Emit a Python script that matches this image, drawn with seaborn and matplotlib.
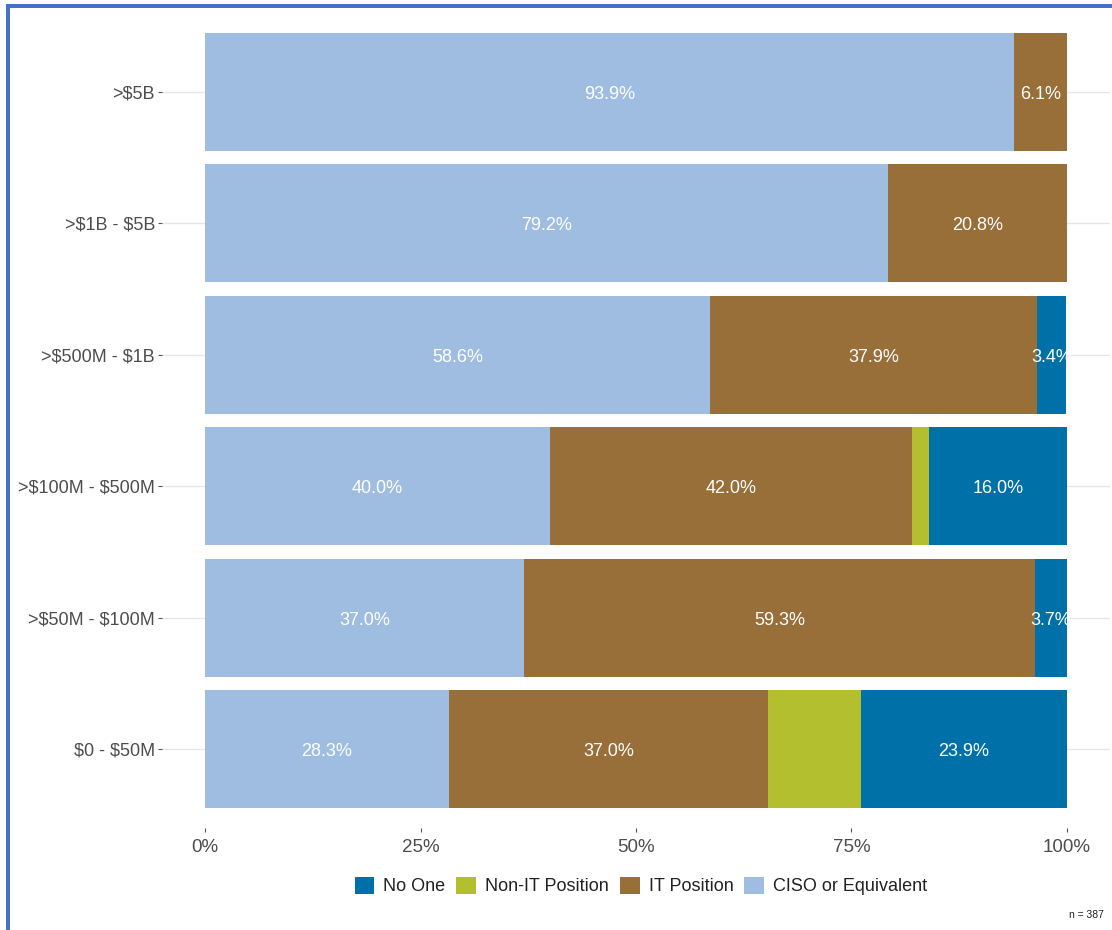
import numpy as np
import pandas as pd
import matplotlib
matplotlib.use("Agg")
import matplotlib.pyplot as plt
from matplotlib.patches import Patch, Rectangle
import seaborn as sns

# Revenue bands, top to bottom
bands = [">$5B", ">$1B - $5B", ">$500M - $1B", ">$100M - $500M", ">$50M - $100M", "$0 - $50M"]

# Share of respondents (%) per band, stacked left to right
ciso = [93.9, 79.2, 58.6, 40.0, 37.0, 28.3]
it_position = [6.1, 20.8, 37.9, 42.0, 59.3, 37.0]
non_it = [0.0, 0.0, 0.0, 2.0, 0.0, 10.8]
no_one = [0.0, 0.0, 3.4, 16.0, 3.7, 23.9]

series_names = ["CISO or Equivalent", "IT Position", "Non-IT Position", "No One"]
series_vals = [ciso, it_position, non_it, no_one]
colors = {
    "CISO or Equivalent": "#9EBDE0",
    "IT Position": "#986E39",
    "Non-IT Position": "#B3BF2E",
    "No One": "#0071A8",
}
labelled = {"CISO or Equivalent", "IT Position", "No One"}
legend_order = ["No One", "Non-IT Position", "IT Position", "CISO or Equivalent"]
x_ticks = [0, 25, 50, 75, 100]
x_ticklabels = ["0%", "25%", "50%", "75%", "100%"]
sample_note = "n = 387"

sns.set_theme(style="white")
plt.rcParams["font.family"] = ["Liberation Sans", "DejaVu Sans"]
plt.rcParams["text.parse_math"] = False

W, H = 1112, 930
fig = plt.figure(figsize=(W / 100, H / 100), dpi=100)
ax = fig.add_axes([162 / W, 1 - 828 / H, (1110 - 162) / W, (828 - 13) / H])

# cumulative ends for stacking
vals = np.array(series_vals)
ends = np.cumsum(vals, axis=0)
starts = ends - vals

# draw from the outermost stack segment inward so inner ones overlay
for i in range(len(series_names) - 1, -1, -1):
    df = pd.DataFrame({"band": bands, "end": ends[i]})
    sns.barplot(data=df, x="end", y="band", order=bands, orient="h",
                color=colors[series_names[i]], saturation=1, width=0.9,
                linewidth=0, ax=ax)

# horizontal guide lines behind the bars
ax.set_axisbelow(True)
for k in range(len(bands)):
    ax.axhline(k, color="#E6E6E6", lw=1.0, zorder=0)

# segment labels
for i, name in enumerate(series_names):
    if name not in labelled:
        continue
    for k in range(len(bands)):
        v = vals[i, k]
        if v <= 0:
            continue
        ax.text(starts[i, k] + v / 2, k + 0.02, f"{v:.1f}%", ha="center", va="center",
                color="white", fontsize=13)

ax.set_xlim(-5, 105)
ax.set_ylim(len(bands) - 0.4, -0.6)
ax.set_xticks(x_ticks)
ax.set_xticklabels(x_ticklabels)
ax.set_xlabel("")
ax.set_ylabel("")
for s in ax.spines.values():
    s.set_visible(False)
ax.grid(False)
ax.tick_params(axis="both", which="both", bottom=True, left=True, length=3, width=0.8,
               color="#555555", labelcolor="#4D4D4D")
ax.tick_params(axis="y", labelsize=13, pad=2)
ax.tick_params(axis="x", labelsize=13.5, pad=5)

handles = [Patch(facecolor=colors[n], edgecolor="none", label=n) for n in legend_order]
fig.legend(handles=handles, loc="center", bbox_to_anchor=(641 / W, 1 - 886 / H),
           ncol=4, frameon=False, fontsize=13, handlelength=1.1, handleheight=1.1,
           handletextpad=0.5, columnspacing=0.6, labelcolor="#222222")

fig.text(1104 / W, 1 - 915 / H, sample_note, ha="right", va="center", fontsize=7.5,
         color="#222222")

# frame edges along the top and left
fig.patches.append(Rectangle((6 / W, 0), 4 / W, 1 - 4 / H, transform=fig.transFigure,
                             facecolor="#4472C4", edgecolor="none"))
fig.patches.append(Rectangle((6 / W, 1 - 8 / H), 1 - 6 / W, 4 / H, transform=fig.transFigure,
                             facecolor="#4472C4", edgecolor="none"))

fig.savefig("out.png", dpi=100)
